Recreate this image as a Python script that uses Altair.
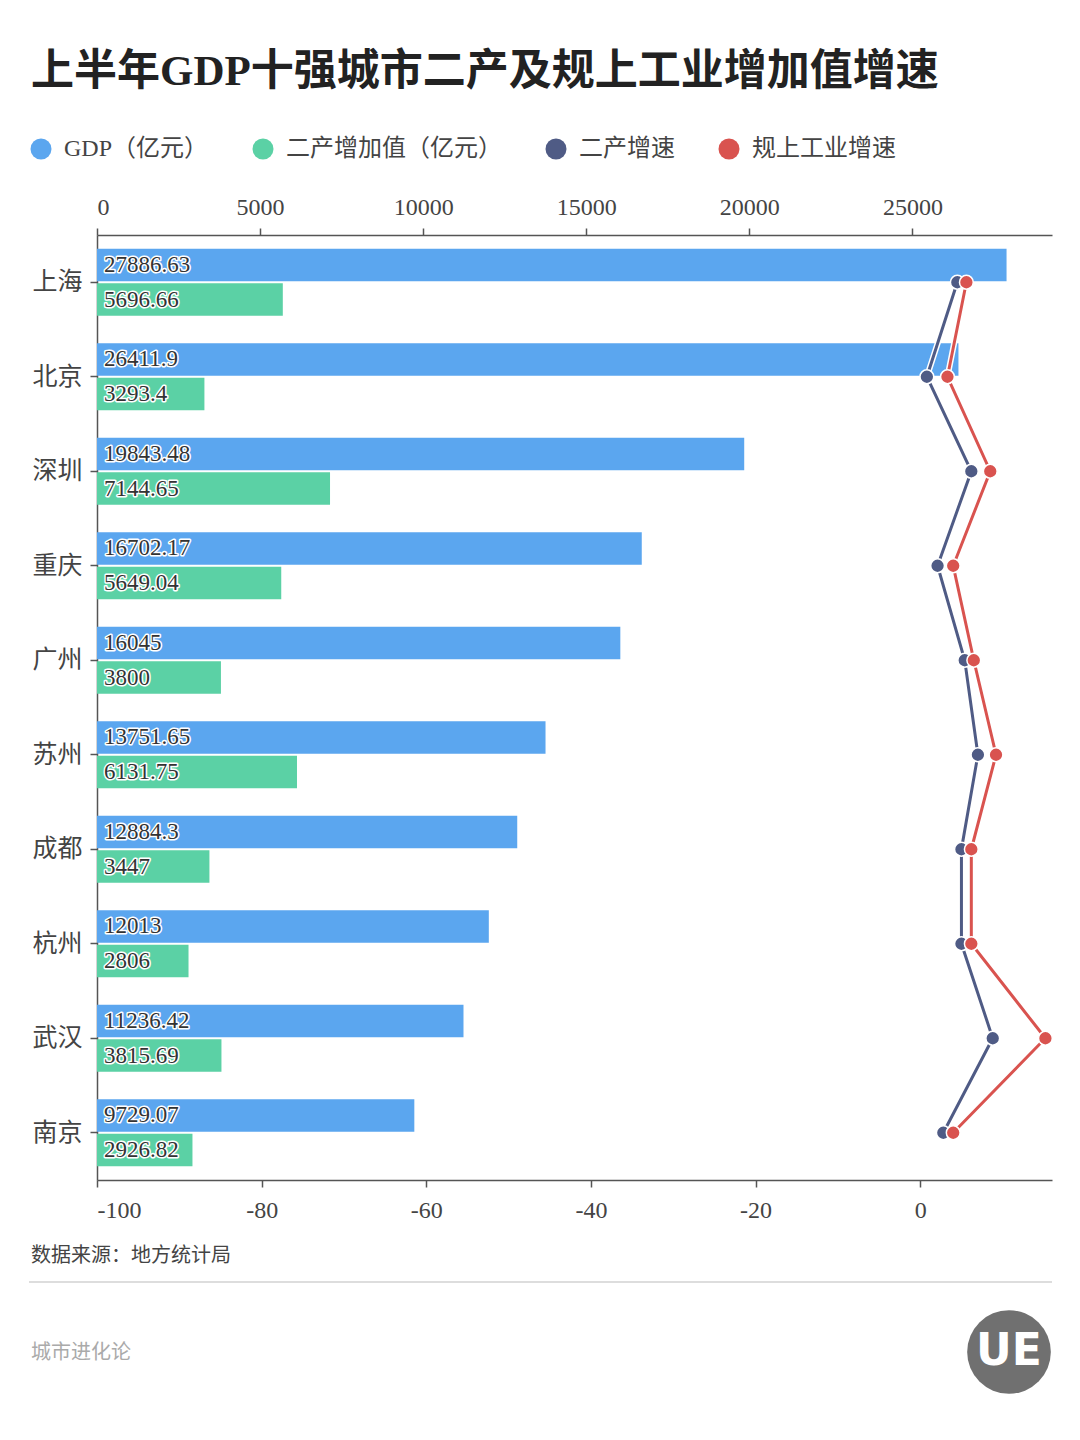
import altair as alt
import pandas as pd

cities = ["上海", "北京", "深圳", "重庆", "广州", "苏州", "成都", "杭州", "武汉", "南京"]
gdp = [27886.63, 26411.9, 19843.48, 16702.17, 16045, 13751.65, 12884.3, 12013, 11236.42, 9729.07]
secondary_value = [5696.66, 3293.4, 7144.65, 5649.04, 3800, 6131.75, 3447, 2806, 3815.69, 2926.82]
secondary_growth = [4.5, 0.8, 6.2, 2.1, 5.4, 7.0, 5.0, 5.0, 8.8, 2.8]
industry_growth = [5.6, 3.3, 8.5, 4.0, 6.5, 9.2, 6.2, 6.2, 15.2, 4.0]

series = ["GDP（亿元）", "二产增加值（亿元）", "二产增速", "规上工业增速"]
colors = ["#5ba6ef", "#5bd1a5", "#4f5b85", "#d9534f"]

FONT = "Liberation Serif, Noto Sans CJK SC"

bar_rows = []
for i, c in enumerate(cities):
    bar_rows.append({"city": c, "series": series[0], "value": gdp[i]})
    bar_rows.append({"city": c, "series": series[1], "value": secondary_value[i]})
bar_df = pd.DataFrame(bar_rows)

line_rows = []
for i, c in enumerate(cities):
    line_rows.append({"city": c, "idx": i, "series": series[2], "rate": secondary_growth[i]})
    line_rows.append({"city": c, "idx": i, "series": series[3], "rate": industry_growth[i]})
line_df = pd.DataFrame(line_rows)

color_scale = alt.Scale(domain=series, range=colors)
y_scale = alt.Scale(domain=cities, paddingInner=0.29, paddingOuter=0.145)

y_enc = alt.Y("city:N", sort=cities, scale=y_scale, title=None,
              axis=alt.Axis(labelFont=FONT, labelFontSize=25, labelColor="#444",
                            tickSize=7, tickColor="#555", tickWidth=1.5,
                            domainColor="#555", domainWidth=1.5, labelPadding=8))
yoff = alt.YOffset("series:N", sort=series[:2], scale=alt.Scale(paddingInner=0.06))

x_top = alt.X("value:Q", scale=alt.Scale(domain=[0, 29280], nice=False), title=None,
              axis=alt.Axis(orient="top", grid=False, labelFont=FONT, labelFontSize=24,
                            labelColor="#444", tickSize=7, tickColor="#555", tickWidth=1.5,
                            domainColor="#555", domainWidth=1.5, labelPadding=9,
                            tickCount=6, format="d"))

bars = alt.Chart(bar_df).mark_bar().encode(
    x=x_top,
    y=y_enc,
    yOffset=yoff,
    color=alt.Color("series:N", scale=color_scale, title=None,
                    legend=alt.Legend(orient="none", legendX=-68, legendY=-98,
                                      direction="horizontal", symbolType="circle",
                                      symbolSize=440, symbolStrokeWidth=0,
                                      labelFont=FONT, labelFontSize=24, labelColor="#444",
                                      labelOffset=11, columnPadding=42, padding=0,
                                      labelLimit=0, values=series)),
)

text_halo = alt.Chart(bar_df).mark_text(
    align="left", baseline="middle", dx=7, font=FONT, fontSize=23,
    stroke="white", strokeWidth=3, strokeJoin="round", fill="white"
).encode(x=alt.datum(0), y=alt.Y("city:N", sort=cities), yOffset=yoff, text="value:Q")

text = alt.Chart(bar_df).mark_text(
    align="left", baseline="middle", dx=7, font=FONT, fontSize=23, color="#333"
).encode(x=alt.datum(0), y=alt.Y("city:N", sort=cities), yOffset=yoff, text="value:Q")

bar_group = alt.layer(bars, text_halo, text)

x_bottom = alt.X("rate:Q", scale=alt.Scale(domain=[-100, 16], nice=False), title=None,
                 axis=alt.Axis(orient="bottom", grid=False, labelFont=FONT, labelFontSize=24,
                               labelColor="#444", tickSize=7, tickColor="#555", tickWidth=1.5,
                               domainColor="#555", domainWidth=1.5, labelPadding=11,
                               values=[-100, -80, -60, -40, -20, 0],
                               labelExpr="datum.value + ''"))

line_halo = alt.Chart(line_df).mark_line(color="white", strokeWidth=6).encode(
    x=x_bottom, y=alt.Y("city:N", sort=cities), detail="series:N", order="idx:Q")
lines = alt.Chart(line_df).mark_line(strokeWidth=3).encode(
    x=x_bottom, y=alt.Y("city:N", sort=cities),
    color=alt.Color("series:N", scale=color_scale, legend=None), order="idx:Q")
points = alt.Chart(line_df).mark_point(filled=True, size=190, opacity=1,
                                       stroke="white", strokeWidth=1.5).encode(
    x=x_bottom, y=alt.Y("city:N", sort=cities),
    fill=alt.Fill("series:N", scale=color_scale, legend=None))

line_group = alt.layer(line_halo, lines, points)

one = alt.Data(values=[{"k": 1}])
source_text = alt.Chart(one).mark_text(
    align="left", baseline="middle", font="Noto Sans CJK SC", fontSize=20, color="#444",
    text="数据来源：地方统计局").encode(x=alt.value(-66), y=alt.value(1021))
sep = alt.Chart(one).mark_rule(color="#dddddd", strokeWidth=2).encode(
    x=alt.value(-68), x2=alt.value(955), y=alt.value(1047))
brand = alt.Chart(one).mark_text(
    align="left", baseline="middle", font="Noto Sans CJK SC", fontSize=20, color="#aaaaaa",
    text="城市进化论").encode(x=alt.value(-66), y=alt.value(1118))
logo = alt.Chart(one).mark_point(filled=True, shape="circle", size=7000, color="#707070",
                                 opacity=1).encode(x=alt.value(912), y=alt.value(1117))
logo_text = alt.Chart(one).mark_text(
    align="center", baseline="middle", font="DejaVu Sans", fontSize=44, fontWeight="bold",
    color="white", text="UE").encode(x=alt.value(912), y=alt.value(1117))

chart = alt.layer(bar_group, line_group, source_text, sep, brand, logo, logo_text).resolve_scale(
    x="independent"
).properties(
    width=955, height=945,
    padding={"left": 20, "top": 43, "right": 10, "bottom": 10},
    title=alt.Title("上半年GDP十强城市二产及规上工业增加值增速", anchor="start", frame="group",
                    dx=-66, offset=43, font="Liberation Serif, Noto Sans CJK SC",
                    fontSize=43, fontWeight="bold", color="#222"),
).configure_view(stroke=None)

chart.save("out.html", embed_options={"renderer": "svg", "actions": False})
